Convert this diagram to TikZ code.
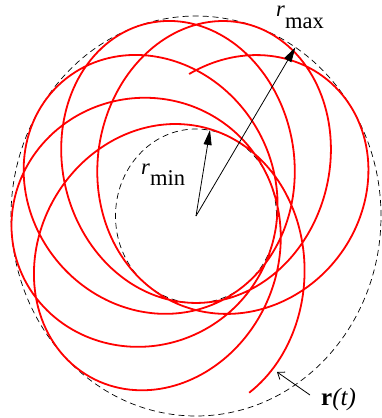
\documentclass[tikz,border=0pt]{standalone}
\usepackage{fontspec}
\setmainfont{Liberation Serif}
\usetikzlibrary{arrows.meta}
\tikzset{
  orbit/.style={red, line width=1.8pt},
  bound/.style={black, line width=0.7pt, dash pattern=on 6pt off 4pt},
  radius arrow/.style={black, line width=0.8pt, -{Triangle[length=15pt,width=8pt]}},
  label arrow/.style={black, line width=0.8pt, -{Straight Barb[length=6pt,width=9pt]}},
  lbl/.style={inner sep=0pt, anchor=base west, font=\fontsize{22.5pt}{22.5pt}\selectfont},
  declare function={rr(\t)=0.606/(1+0.394*cos(112+1.1196*(\t+93)));}
}
\begin{document}
\begin{tikzpicture}[x=1pt,y=1pt]
\useasboundingbox (-196,-202) rectangle (186,216);
\coordinate (O) at (0,0);
% bounding circles
\draw[bound] (O) ellipse [x radius=185, y radius=200];
\draw[bound] (O) ellipse [x radius=80.5, y radius=87];
% orbit
\draw[orbit] plot[domain=-93:1872, samples=1200, variable=\t]
  ({185*rr(\t)*cos(-\t)}, {200*rr(\t)*sin(-\t)});
% radius arrows
\coordinate (Pmax) at (99.4,168.7);
\coordinate (Pmin) at (14,86);
\draw[radius arrow] (O) -- (Pmax);
\draw[radius arrow] (O) -- (Pmin);
% labels
\node[lbl] (lmax) at (80,199) {\textit{r}\raisebox{-12pt}{max}};
\node[lbl] (lmin) at (-55,42) {\textit{r}\raisebox{-11pt}{min}};
\node[lbl, font=\fontsize{25pt}{25pt}\selectfont] (lr) at (125,-189) {\textbf{r}\textit{(t)}};
\coordinate (Ptip) at (81,-156);
\coordinate (Ptail) at (114,-179);
\draw[label arrow] (Ptail) -- (Ptip);
\end{tikzpicture}
\end{document}
